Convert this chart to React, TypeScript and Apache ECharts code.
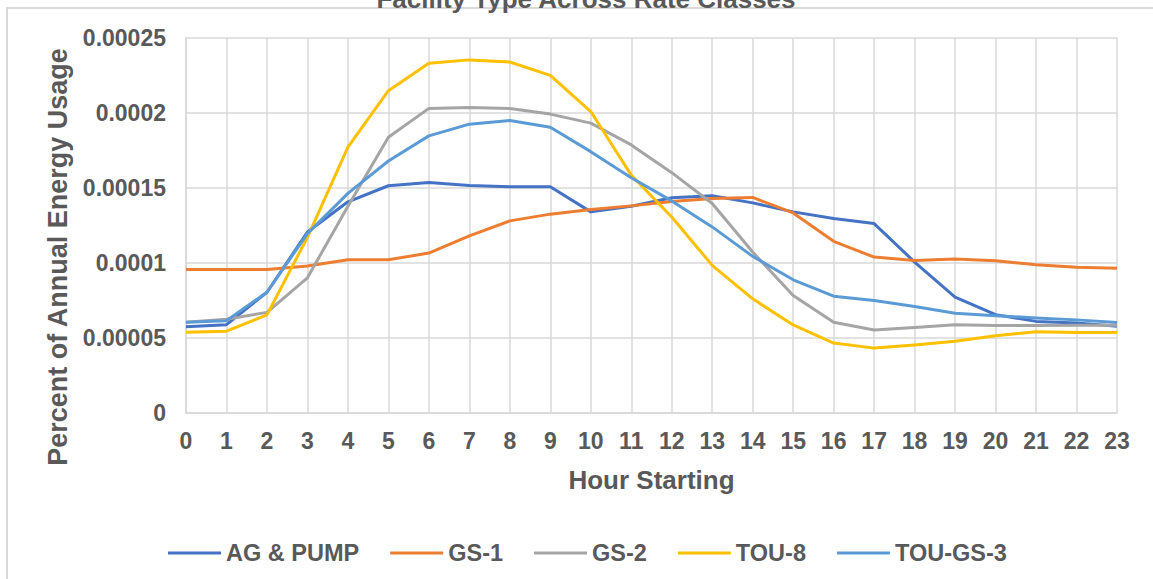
import React, { useEffect, useRef } from "react";
import * as echarts from "echarts";

const hours = ["0","1","2","3","4","5","6","7","8","9","10","11","12","13","14","15","16","17","18","19","20","21","22","23"];
const yTickLabels = ["0", "0.00005", "0.0001", "0.00015", "0.0002", "0.00025"];

const agPump = [0.0000575, 0.0000588, 0.0000804, 0.0001205, 0.0001406, 0.0001513, 0.0001535, 0.0001515, 0.0001506, 0.0001506, 0.0001339, 0.0001377, 0.0001433, 0.0001446, 0.0001399, 0.0001339, 0.0001295, 0.0001261, 0.0001005, 0.0000771, 0.0000655, 0.000061, 0.00006, 0.0000577];
const gs1 = [0.0000956, 0.0000956, 0.0000956, 0.0000978, 0.000102, 0.000102, 0.0001065, 0.0001179, 0.0001279, 0.0001324, 0.0001355, 0.0001379, 0.0001408, 0.0001428, 0.0001435, 0.0001332, 0.0001143, 0.0001038, 0.0001016, 0.0001025, 0.0001014, 0.0000987, 0.0000971, 0.0000963];
const gs2 = [0.0000604, 0.0000624, 0.000067, 0.00009, 0.0001377, 0.0001836, 0.0002028, 0.0002034, 0.0002028, 0.000199, 0.000193, 0.0001785, 0.00016, 0.0001395, 0.0001072, 0.0000782, 0.0000604, 0.0000553, 0.000057, 0.0000588, 0.0000582, 0.0000582, 0.0000585, 0.0000585];
const tou8 = [0.0000537, 0.0000545, 0.0000653, 0.000117, 0.000177, 0.0002146, 0.0002328, 0.0002351, 0.0002337, 0.0002248, 0.0002007, 0.0001584, 0.0001305, 0.0000983, 0.000076, 0.0000586, 0.0000466, 0.0000432, 0.0000452, 0.0000477, 0.0000515, 0.0000541, 0.0000536, 0.0000536];
const touGs3 = [0.0000604, 0.0000615, 0.0000804, 0.0001194, 0.0001462, 0.0001678, 0.0001845, 0.0001923, 0.0001947, 0.0001903, 0.000174, 0.0001566, 0.0001412, 0.0001239, 0.0001043, 0.0000887, 0.0000778, 0.0000749, 0.0000709, 0.0000664, 0.0000648, 0.0000633, 0.000062, 0.0000602];

const seriesNames = ["AG & PUMP", "GS-1", "GS-2", "TOU-8", "TOU-GS-3"];
const seriesColors = ["#4472C4", "#ED7D31", "#A5A5A5", "#FFC000", "#5B9BD5"];
const seriesData = [agPump, gs1, gs2, tou8, touGs3];

const FONT = "'Liberation Sans', Arial, sans-serif";
const TEXT_COLOR = "#595959";
const GRID_COLOR = "#d9d9d9";

export default function App() {
  const ref = useRef<HTMLDivElement>(null);
  useEffect(() => {
    document.body.style.margin = "0";
    const chart = echarts.init(ref.current!, null, { renderer: "svg" });
    chart.setOption({
      animation: false,
      backgroundColor: "#ffffff",
      title: {
        text: "Facility Type Across Rate Classes",
        left: 581,
        textAlign: "center",
        top: -19,
        textStyle: { fontFamily: FONT, fontSize: 26, fontWeight: "bold", color: TEXT_COLOR },
      },
      graphic: [
        {
          type: "rect",
          shape: { x: 7, y: 8, width: 1200, height: 620 },
          style: { fill: "none", stroke: GRID_COLOR, lineWidth: 2 },
          silent: true,
        },
        {
          type: "text",
          x: 58,
          y: 257,
          rotation: Math.PI / 2,
          style: {
            text: "Percent of Annual Energy Usage",
            fontFamily: FONT,
            fontSize: 27,
            fontWeight: "bold",
            fill: TEXT_COLOR,
            align: "center",
            verticalAlign: "middle",
          },
        },
      ],
      grid: { left: 186, right: 36, top: 37.5, bottom: 166, containLabel: false },
      legend: {
        left: 163,
        top: 536,
        itemWidth: 53,
        itemHeight: 3,
        itemGap: 31,
        icon: "rect",
        data: seriesNames,
        textStyle: { fontFamily: FONT, fontSize: 23.5, fontWeight: "bold", color: TEXT_COLOR },
      },
      xAxis: {
        type: "category",
        data: hours,
        boundaryGap: false,
        name: "Hour Starting",
        nameLocation: "middle",
        nameGap: 54,
        nameTextStyle: { fontFamily: FONT, fontSize: 26, fontWeight: "bold", color: TEXT_COLOR },
        axisLine: { lineStyle: { color: GRID_COLOR, width: 1.5 } },
        axisTick: { show: false },
        axisLabel: { interval: 0, margin: 16, fontFamily: FONT, fontSize: 23, fontWeight: "bold", color: TEXT_COLOR },
        splitLine: { show: true, interval: 0, lineStyle: { color: GRID_COLOR, width: 1.5 } },
      },
      yAxis: {
        type: "value",
        min: 0,
        max: 0.00025,
        interval: 0.00005,
        axisLine: { show: true, lineStyle: { color: GRID_COLOR, width: 1.5 } },
        axisTick: { show: false },
        axisLabel: {
          margin: 20,
          fontFamily: FONT,
          fontSize: 23,
          fontWeight: "bold",
          color: TEXT_COLOR,
          formatter: (v: number) => yTickLabels[Math.round(v / 0.00005)],
        },
        splitLine: { show: true, lineStyle: { color: GRID_COLOR, width: 1.5 } },
      },
      series: seriesNames.map((name, i) => ({
        name,
        type: "line",
        data: seriesData[i],
        showSymbol: false,
        symbol: "none",
        color: seriesColors[i],
        lineStyle: { color: seriesColors[i], width: 3, join: "round" },
      })),
    });
    return () => chart.dispose();
  }, []);
  return <div ref={ref} style={{ position: "absolute", left: 0, top: 0, width: 1153, height: 579 }} />;
}
